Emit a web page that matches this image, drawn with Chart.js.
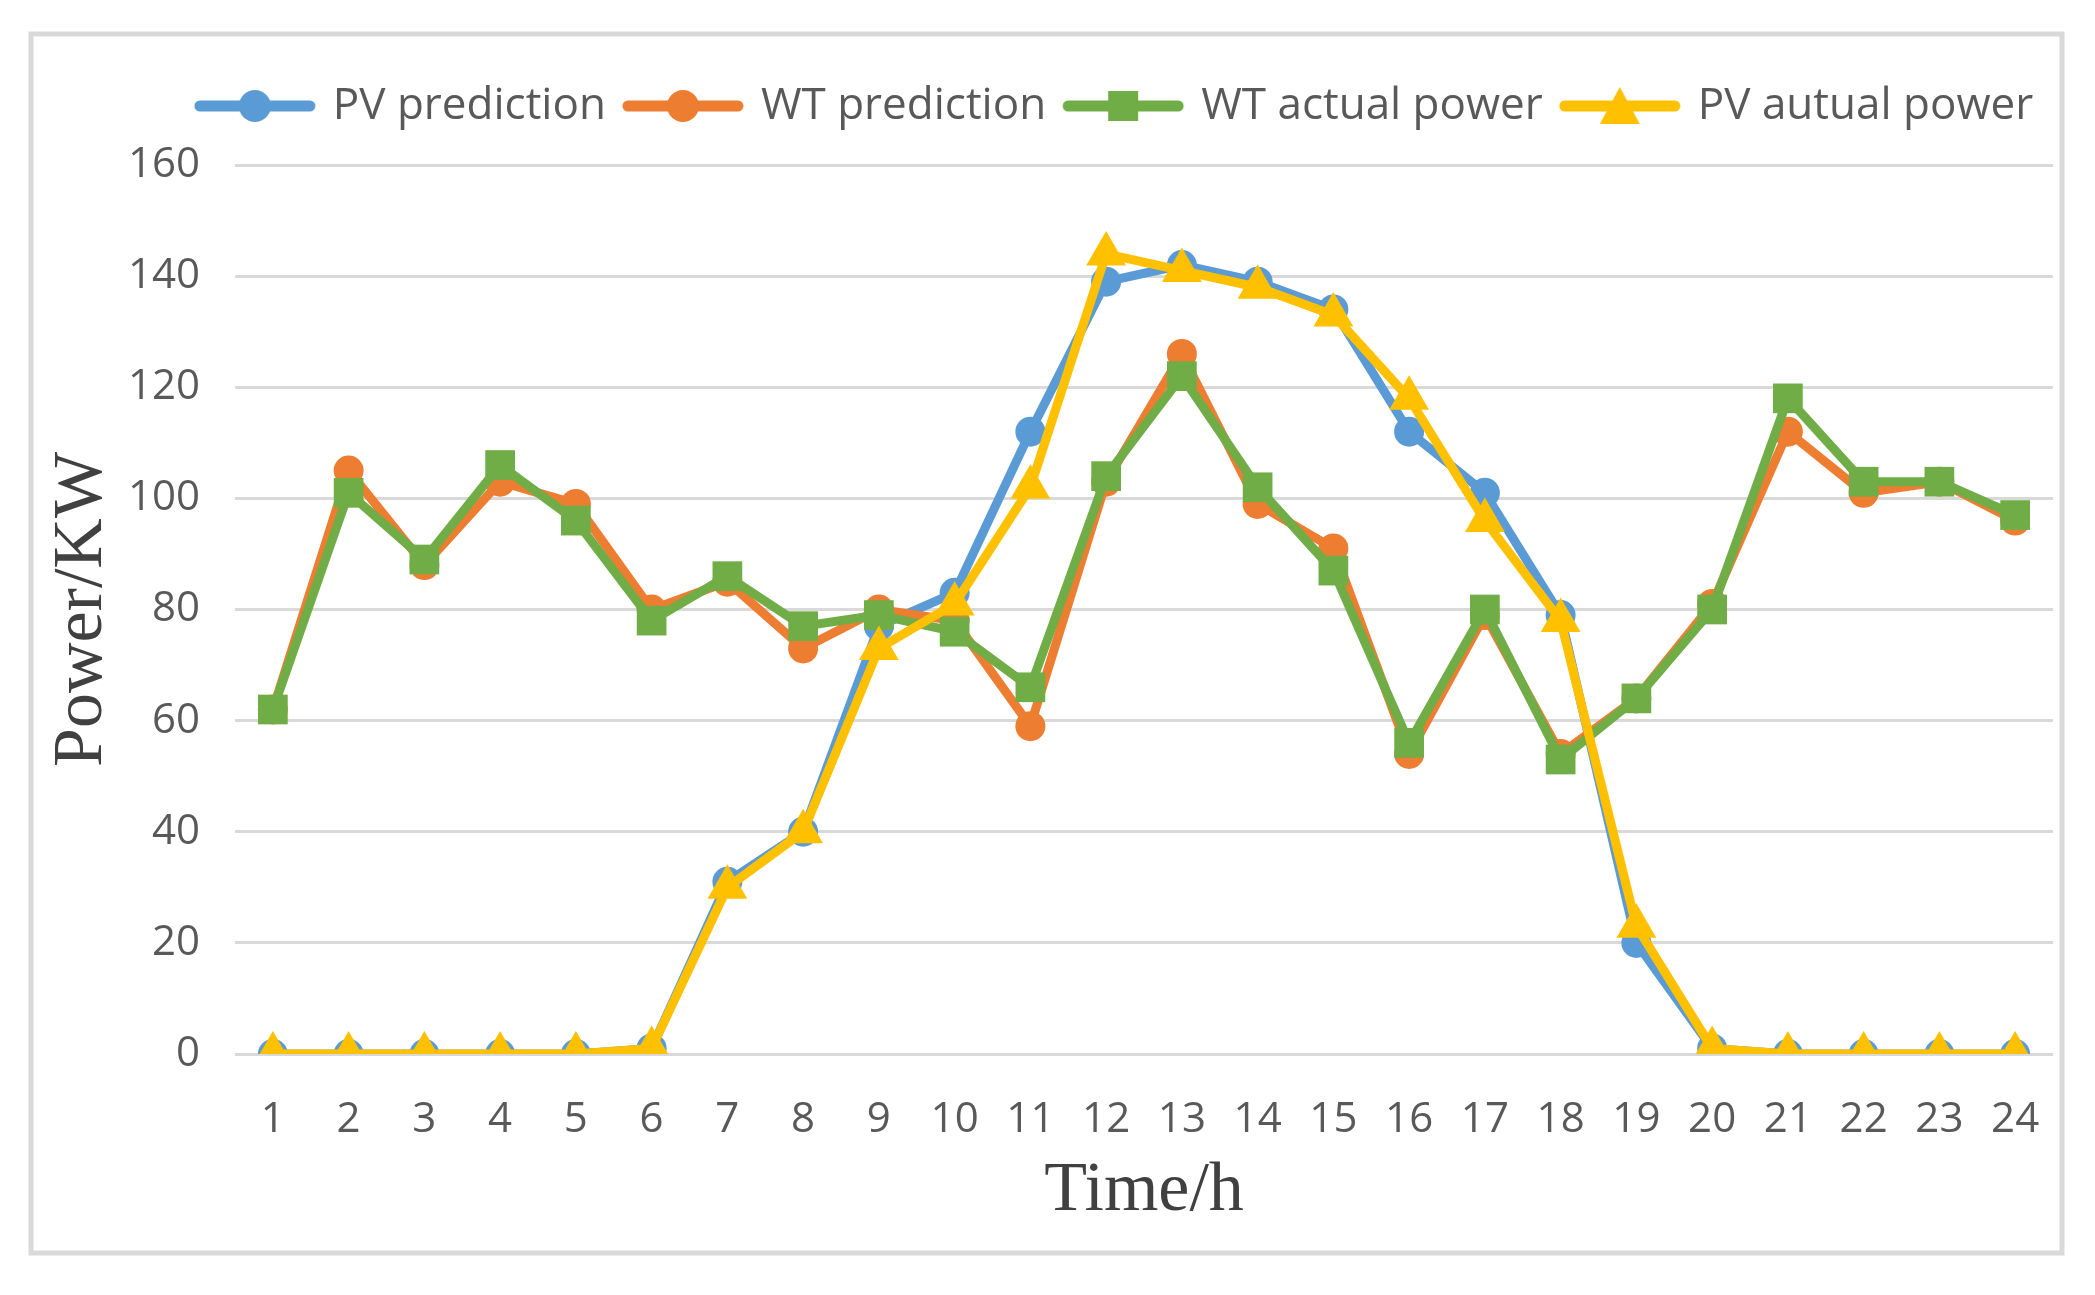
<!DOCTYPE html>
<html>
<head>
<meta charset="utf-8">
<title>PV / WT power</title>
<script src="https://cdn.jsdelivr.net/npm/chart.js@4.4.1/dist/chart.umd.min.js"></script>
<style>
  html, body { margin: 0; padding: 0; background: #fff; }
  #wrap { position: relative; width: 2095px; height: 1295px; }
</style>
</head>
<body>
<div id="wrap"><canvas id="chart"></canvas></div>
<script>
// hours on the x axis
var hours = ['1','2','3','4','5','6','7','8','9','10','11','12','13','14','15','16','17','18','19','20','21','22','23','24'];

// values (kW)
var pvPrediction = [0, 0, 0, 0, 0, 1, 31, 40, 77, 83, 112, 139, 142, 139, 134, 112, 101, 79, 20, 1, 0, 0, 0, 0];
var wtPrediction = [62, 105, 88, 103, 99, 80, 85, 73, 80, 78, 59, 103, 126, 99, 91, 54, 79, 54, 64, 81, 112, 101, 103, 96];
var wtActual     = [62, 101, 89, 106, 96, 78, 86, 77, 79, 76, 66, 104, 122, 102, 87, 56, 80, 53, 64, 80, 118, 103, 103, 97];
var pvActual     = [0, 0, 0, 0, 0, 1, 30, 40, 73, 81, 102, 144, 141, 138, 133, 118, 96, 78, 23, 1, 0, 0, 0, 0];

var seriesNames = ['PV prediction', 'WT prediction', 'WT actual power', 'PV autual power'];
var yTicks = [0, 20, 40, 60, 80, 100, 120, 140, 160];

var BLUE = '#5B9BD5', ORANGE = '#ED7D31', GREEN = '#70AD47', GOLD = '#FFC000';
var TEXT = '#595959';

// legend icons: a thick line with the marker in the middle
function legendIcon(color, shape) {
  var c = document.createElement('canvas');
  c.width = 124; c.height = 44;
  var g = c.getContext('2d');
  g.strokeStyle = color; g.fillStyle = color;
  g.lineWidth = 11; g.lineCap = 'round';
  g.beginPath(); g.moveTo(7, 22); g.lineTo(117, 22); g.stroke();
  g.beginPath();
  if (shape === 'circle') {
    g.arc(62, 22, 16, 0, Math.PI * 2);
  } else if (shape === 'rect') {
    g.rect(47, 7, 30, 30);
  } else {
    g.moveTo(62, 3); g.lineTo(82, 40); g.lineTo(42, 40); g.closePath();
  }
  g.fill();
  return c;
}
var icons = [
  legendIcon(BLUE, 'circle'),
  legendIcon(ORANGE, 'circle'),
  legendIcon(GREEN, 'rect'),
  legendIcon(GOLD, 'triangle')
];

// grey frame + legend placement
var framePlugin = {
  id: 'frame',
  beforeDraw: function (chart) {
    var c = chart.ctx;
    c.save();
    c.fillStyle = '#fff';
    c.fillRect(0, 0, chart.width, chart.height);
    c.strokeStyle = '#d9d9d9';
    c.lineWidth = 5;
    c.strokeRect(31, 34, 2031, 1219);
    c.restore();
  },
  afterLayout: function (chart) {
    var l = chart.legend;
    if (!l) return;
    var dx = 1116 - (l.left + l.right) / 2;
    l.left += dx; l.right += dx;
    l.top -= 27; l.bottom -= 27;
  }
};

function lineSet(label, data, color, style, radius, order) {
  return {
    label: label, data: data,
    borderColor: color, backgroundColor: color,
    borderWidth: 9, borderJoinStyle: 'round', borderCapStyle: 'round',
    pointStyle: style, pointRadius: radius, pointHoverRadius: radius,
    pointBackgroundColor: color, pointBorderColor: color, pointBorderWidth: 0,
    tension: 0, fill: false, order: order
  };
}

new Chart(document.getElementById('chart'), {
  type: 'line',
  data: {
    labels: hours,
    datasets: [
      lineSet(seriesNames[0], pvPrediction, BLUE, 'circle', 15, 4),
      lineSet(seriesNames[1], wtPrediction, ORANGE, 'circle', 15, 3),
      lineSet(seriesNames[2], wtActual, GREEN, 'rect', 21, 2),
      lineSet(seriesNames[3], pvActual, GOLD, 'triangle', 23, 1)
    ]
  },
  options: {
    responsive: true, maintainAspectRatio: false, animation: false,
    layout: { padding: { left: 36, right: 42, top: 90, bottom: 50 } },
    plugins: {
      tooltip: { enabled: false },
      legend: {
        position: 'top', align: 'center', fullSize: true,
        labels: {
          usePointStyle: true, pointStyleWidth: 112, padding: 21,
          color: TEXT, font: { family: 'Open Sans', size: 44 },
          generateLabels: function (chart) {
            return chart.data.datasets.map(function (ds, i) {
              return {
                text: ds.label, fillStyle: ds.borderColor, strokeStyle: ds.borderColor,
                lineWidth: 0, pointStyle: icons[i], fontColor: TEXT,
                hidden: !chart.isDatasetVisible(i), datasetIndex: i
              };
            });
          }
        }
      }
    },
    scales: {
      x: {
        offset: true,
        grid: { display: false, drawTicks: false },
        border: { display: false },
        ticks: { color: TEXT, font: { family: 'Open Sans', size: 42 }, padding: 41, maxRotation: 0, autoSkip: false },
        title: {
          display: true, text: 'Time/h', color: '#404040',
          font: { family: 'Liberation Serif', size: 70 }, padding: { top: 0, bottom: 11 }
        },
        afterFit: function (scale) { scale.height = 191; }
      },
      y: {
        min: yTicks[0], max: yTicks[yTicks.length - 1],
        afterBuildTicks: function (scale) { scale.ticks = yTicks.map(function (v) { return { value: v }; }); },
        grid: { color: '#d9d9d9', lineWidth: 3, drawTicks: false },
        border: { display: false },
        ticks: { color: TEXT, font: { family: 'Open Sans', size: 42 }, padding: 35 },
        title: {
          display: true, text: 'Power/KW', color: '#404040',
          font: { family: 'Liberation Serif', size: 70 }, padding: { top: 5, bottom: 0 }
        },
        afterFit: function (scale) { scale.width = 199; }
      }
    }
  },
  plugins: [framePlugin]
});
</script>
</body>
</html>
